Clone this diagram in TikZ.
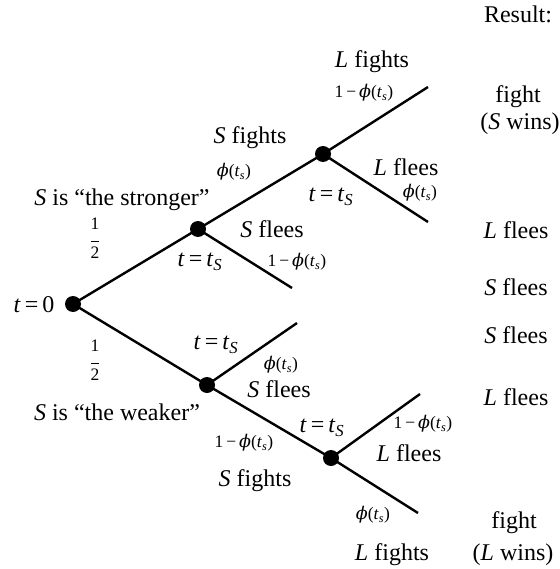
\documentclass[tikz,border=0pt]{standalone}
\usepackage{fontspec}
\setmainfont{Liberation Serif}
\newfontfamily\phifont{DejaVu Serif}
\newcommand{\vS}{\textit{S}}
\newcommand{\vL}{\textit{L}}
\newcommand{\tts}{\textit{t}\,=\,\textit{t}\textsubscript{\textit{S}}}
\newcommand{\phits}{{\phifont\itshape ϕ}(\textit{t}\textsubscript{\textit{s}})}
\newcommand{\ophits}{1\,−\,\phits}
\newcommand{\half}{\begin{tabular}{@{}c@{}}1\\[-6pt]\rule{8pt}{0.9pt}\\[-3pt]2\end{tabular}}
\tikzset{
  branch/.style={line width=2.4pt},
  dot/.style={circle,fill=black,inner sep=0pt,minimum size=16pt},
  lab/.style={inner sep=0pt,font=\fontsize{24}{26}\selectfont},
  prob/.style={inner sep=0pt,font=\fontsize{17.5}{19}\selectfont}
}
\begin{document}
\begin{tikzpicture}[x=1pt,y=-1pt]
\useasboundingbox (0,0) rectangle (559,569);
% nodes
\node[dot] (r) at (73,304) {};
\node[dot] (a) at (198,229) {};
\node[dot] (b) at (207,385) {};
\node[dot] (c) at (323,154) {};
\node[dot] (d) at (331,458) {};
\coordinate (ae) at (292,288);
\coordinate (cu) at (428,87);
\coordinate (cl) at (428,222);
\coordinate (bu) at (297,323);
\coordinate (du) at (420,394);
\coordinate (dl) at (418,513);
% branches
\draw[branch] (r.center) -- (a.center);
\draw[branch] (r.center) -- (b.center);
\draw[branch] (a.center) -- (c.center);
\draw[branch] (a.center) -- (ae);
\draw[branch] (c.center) -- (cu);
\draw[branch] (c.center) -- (cl);
\draw[branch] (b.center) -- (bu);
\draw[branch] (b.center) -- (d.center);
\draw[branch] (d.center) -- (du);
\draw[branch] (d.center) -- (dl);
% labels
\node[lab] (res) at (518,14) {Result:};
\node[lab] (lf1) at (372,62) {\vL{} fights};
\node[prob] (p1) at (364,93) {\ophits};
\node[lab] (r1a) at (518,97) {fight};
\node[lab] (r1b) at (520,124) {(\vS{} wins)};
\node[lab] (sf1) at (250,138) {\vS{} fights};
\node[prob] (p2) at (234,172) {\phits};
\node[lab] (lfl1) at (406,167) {\vL{} flees};
\node[prob] (p3) at (420,193) {\phits};
\node[lab] (tc) at (331,197) {\tts};
\node[lab] (strong) at (122,200) {\vS{} is “the stronger”};
\node[prob] (h1) at (95,240) {\half};
\node[lab] (ta) at (200,262) {\tts};
\node[lab] (sfl1) at (272,229) {\vS{} flees};
\node[prob] (p4) at (297,262) {\ophits};
\node[lab] (r2) at (516,230) {\vL{} flees};
\node[lab] (r3) at (516,287) {\vS{} flees};
\node[lab] (t0) at (34,305) {\textit{t}\,=\,0};
\node[lab] (r4) at (516,335) {\vS{} flees};
\node[lab] (tb) at (216,345) {\tts};
\node[prob] (p5) at (281,365) {\phits};
\node[prob] (h2) at (95,362) {\half};
\node[lab] (sfl2) at (279,389) {\vS{} flees};
\node[lab] (r5) at (516,397) {\vL{} flees};
\node[lab] (weak) at (117,412) {\vS{} is “the weaker”};
\node[lab] (td) at (322,428) {\tts};
\node[prob] (p6) at (423,424) {\ophits};
\node[prob] (p7) at (244,443) {\ophits};
\node[lab] (lfl2) at (409,453) {\vL{} flees};
\node[lab] (sf2) at (255,481) {\vS{} fights};
\node[prob] (p8) at (373,515) {\phits};
\node[lab] (r6a) at (514,523) {fight};
\node[lab] (lf2) at (392,555) {\vL{} fights};
\node[lab] (r6b) at (513,555) {(\vL{} wins)};
\end{tikzpicture}
\end{document}
